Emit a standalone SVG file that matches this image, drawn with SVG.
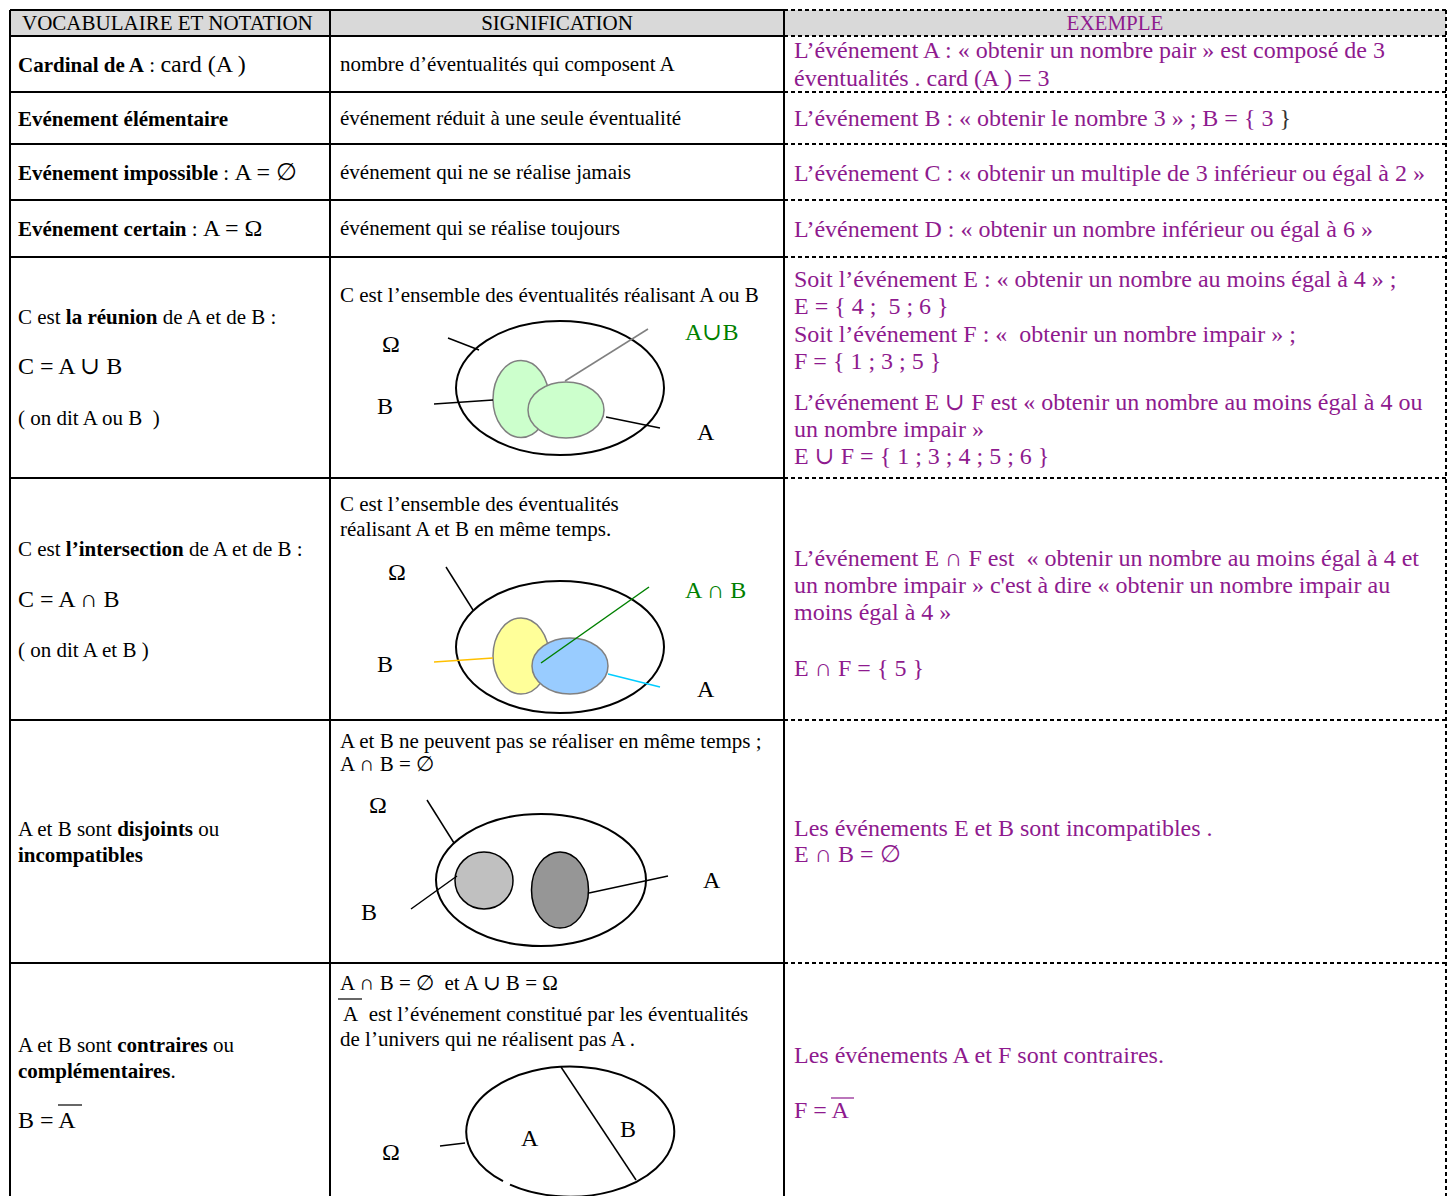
<svg xmlns="http://www.w3.org/2000/svg" width="1453" height="1196" viewBox="0 0 1453 1196">
<style>
text{font-family:"Liberation Serif","DejaVu Serif",serif;font-size:21px;fill:#000}
.p{fill:#8e1a8e;font-size:24px}
.b{font-weight:bold}
.L{font-size:24px}
.g{fill:#008000;font-size:24px}
.solid{stroke:#000;stroke-width:2;fill:none}
.dash{stroke:#000;stroke-width:2;stroke-dasharray:4 3;fill:none}
.univ{fill:#fff;stroke:#000;stroke-width:2}
.set{stroke:#808080;stroke-width:1.5}
.setk{stroke:#000;stroke-width:1.5}
.lead{stroke:#000;stroke-width:1.5;fill:none}
</style>
<rect width="1453" height="1196" fill="#fff"/>

<g id="grid">
  <rect x="10" y="10" width="1436" height="26" fill="#d9d9d9"/>
  <path class="solid" d="M10 10H784M10 36H784M10 92H784M10 144H784M10 200H784M10 257H784M10 478H784M10 720H784M10 963H784"/>
  <path class="solid" d="M10 10V1196M330 10V1196M784 10V1196"/>
  <path class="dash" d="M784 10H1446M784 36H1446M784 92H1446M784 144H1446M784 200H1446M784 257H1446M784 478H1446M784 720H1446M784 963H1446"/>
  <path class="dash" d="M1446 10V1196"/>
</g>

<g id="header">
  <text x="22" y="30">VOCABULAIRE ET NOTATION</text>
  <text x="557" y="30" text-anchor="middle">SIGNIFICATION</text>
  <text x="1115" y="30" text-anchor="middle" class="p" style="font-size:21px">EXEMPLE</text>
</g>

<g id="row-cardinal">
  <text x="18" y="72"><tspan class="b">Cardinal de A</tspan> : <tspan class="L">card (A )</tspan></text>
  <text x="340" y="71">nombre d’éventualités qui composent A</text>
  <text x="794" y="58" class="p">L’événement A : « obtenir un nombre pair » est composé de 3</text>
  <text x="794" y="86" class="p">éventualités . card (A ) = 3</text>
</g>

<g id="row-elementaire">
  <text x="18" y="126" class="b">Evénement élémentaire</text>
  <text x="340" y="125">événement réduit à une seule éventualité</text>
  <text x="794" y="126" class="p">L’événement B : « obtenir le nombre 3 » ; B = { 3 <tspan fill="#333">}</tspan></text>
</g>

<g id="row-impossible">
  <text x="18" y="180"><tspan class="b">Evénement impossible</tspan> : <tspan class="L">A = ∅</tspan></text>
  <text x="340" y="179">événement qui ne se réalise jamais</text>
  <text x="794" y="181" class="p">L’événement C : « obtenir un multiple de 3 inférieur ou égal à 2 »</text>
</g>

<g id="row-certain">
  <text x="18" y="236"><tspan class="b">Evénement certain</tspan> : <tspan class="L">A = Ω</tspan></text>
  <text x="340" y="235">événement qui se réalise toujours</text>
  <text x="794" y="237" class="p">L’événement D : « obtenir un nombre inférieur ou égal à 6 »</text>
</g>

<g id="row-reunion">
  <text x="18" y="324">C est <tspan class="b">la réunion</tspan> de A et de B :</text>
  <text x="18" y="374" class="L">C = A ∪ B</text>
  <text x="18" y="425">( on dit A ou B&#160; )</text>
  <text x="340" y="302">C est l’ensemble des éventualités réalisant A ou B</text>
  <g id="venn-reunion">
    <ellipse class="univ" cx="560" cy="388" rx="104" ry="67"/>
    <ellipse class="set" cx="521" cy="399" rx="28" ry="38.5" fill="#ccffcc"/>
    <ellipse class="set" cx="566" cy="410" rx="38" ry="28" fill="#ccffcc"/>
    <text x="382" y="352" class="L">Ω</text>
    <text x="377" y="414" class="L">B</text>
    <text x="697" y="440" class="L">A</text>
    <text x="685" y="340" class="g">A∪B</text>
  </g>
  <text x="794" y="287" class="p">Soit l’événement E : « obtenir un nombre au moins égal à 4 » ;</text>
  <text x="794" y="314" class="p">E = { 4 ;&#160; 5 ; 6 }</text>
  <text x="794" y="342" class="p">Soit l’événement F : «&#160; obtenir un nombre impair » ;</text>
  <text x="794" y="369" class="p">F = { 1 ; 3 ; 5 }</text>
  <text x="794" y="410" class="p">L’événement E ∪ F est « obtenir un nombre au moins égal à 4 ou</text>
  <text x="794" y="437" class="p">un nombre impair »</text>
  <text x="794" y="464" class="p">E ∪ F = { 1 ; 3 ; 4 ; 5 ; 6 }</text>
</g>

<g id="row-intersection">
  <text x="18" y="556">C est <tspan class="b">l’intersection</tspan> de A et de B :</text>
  <text x="18" y="607" class="L">C = A ∩ B</text>
  <text x="18" y="657">( on dit A et B )</text>
  <text x="340" y="511">C est l’ensemble des éventualités</text>
  <text x="340" y="536">réalisant A et B en même temps.</text>
  <g id="venn-intersection">
    <ellipse class="univ" cx="560" cy="647" rx="104" ry="66"/>
    <ellipse class="set" cx="521" cy="656" rx="28" ry="38" fill="#ffff99"/>
    <ellipse class="set" cx="570" cy="666" rx="38" ry="28" fill="#99ccff"/>
    <text x="388" y="580" class="L">Ω</text>
    <text x="377" y="672" class="L">B</text>
    <text x="697" y="697" class="L">A</text>
    <text x="685" y="598" class="g">A ∩ B</text>
  </g>
  <text x="794" y="566" class="p">L’événement E ∩ F est&#160; « obtenir un nombre au moins égal à 4 et</text>
  <text x="794" y="593" class="p">un nombre impair » c'est à dire « obtenir un nombre impair au</text>
  <text x="794" y="620" class="p">moins égal à 4 »</text>
  <text x="794" y="676" class="p">E ∩ F = { 5 }</text>
</g>

<g id="row-disjoints">
  <text x="18" y="836">A et B sont <tspan class="b">disjoints</tspan> ou</text>
  <text x="18" y="862" class="b">incompatibles</text>
  <text x="340" y="748">A et B ne peuvent pas se réaliser en même temps ;</text>
  <text x="340" y="771">A ∩ B = ∅</text>
  <g id="venn-disjoints">
    <ellipse class="univ" cx="541" cy="880" rx="105" ry="66"/>
    <ellipse class="setk" cx="484" cy="880.5" rx="29" ry="28.5" fill="#c0c0c0"/>
    <ellipse class="setk" cx="560" cy="890" rx="28.5" ry="38" fill="#969696"/>
    <text x="369" y="813" class="L">Ω</text>
    <text x="361" y="920" class="L">B</text>
    <text x="703" y="888" class="L">A</text>
  </g>
  <text x="794" y="836" class="p">Les événements E et B sont incompatibles .</text>
  <text x="794" y="862" class="p">E ∩ B = ∅</text>
</g>

<g id="row-contraires">
  <text x="18" y="1052">A et B sont <tspan class="b">contraires</tspan> ou</text>
  <text x="18" y="1078"><tspan class="b">complémentaires</tspan>.</text>
  <text x="18" y="1128" class="L">B = A</text>
  <line x1="58" y1="1105" x2="82" y2="1105" stroke="#000" stroke-width="1.2"/>
  <text x="340" y="990">A ∩ B = ∅&#160; et A ∪ B = Ω</text>
  <line x1="338" y1="999" x2="362" y2="999" stroke="#000" stroke-width="1.2"/>
  <text x="343" y="1021">A&#160; est l’événement constitué par les éventualités</text>
  <text x="340" y="1046">de l’univers qui ne réalisent pas A .</text>
  <g id="venn-contraires">
    <path d="M503 1181.2A104 65 0 1 1 510 1184.6" fill="#fff" stroke="#000" stroke-width="2"/>
    <text x="382" y="1160" class="L">Ω</text>
    <text x="521" y="1146" class="L">A</text>
    <text x="620" y="1137" class="L">B</text>
  </g>
  <text x="794" y="1063" class="p">Les événements A et F sont contraires.</text>
  <text x="794" y="1118" class="p">F = A</text>
  <line x1="831" y1="1098" x2="854" y2="1098" stroke="#8e1a8e" stroke-width="1.2"/>
</g>

<g id="connectors">
  <line class="lead" x1="448" y1="338" x2="479" y2="350"/>
  <line x1="565" y1="381" x2="648" y2="329" stroke="#808080" stroke-width="1.5"/>
  <line class="lead" x1="434" y1="404" x2="493" y2="400"/>
  <line class="lead" x1="606" y1="417" x2="660" y2="428"/>

  <line class="lead" x1="446" y1="567" x2="473" y2="610"/>
  <line x1="541" y1="663" x2="649" y2="587" stroke="#008000" stroke-width="1.5"/>
  <line x1="434" y1="662" x2="493" y2="658" stroke="#ffc000" stroke-width="1.5"/>
  <line x1="608" y1="674" x2="660" y2="687" stroke="#00ccff" stroke-width="1.5"/>

  <line class="lead" x1="427" y1="800" x2="454" y2="843"/>
  <line class="lead" x1="411" y1="909" x2="457" y2="876"/>
  <line class="lead" x1="589" y1="893" x2="668" y2="876"/>

  <line class="lead" x1="440" y1="1146" x2="465" y2="1143"/>
  <line class="lead" x1="561" y1="1067" x2="636" y2="1180"/>
</g>
</svg>
